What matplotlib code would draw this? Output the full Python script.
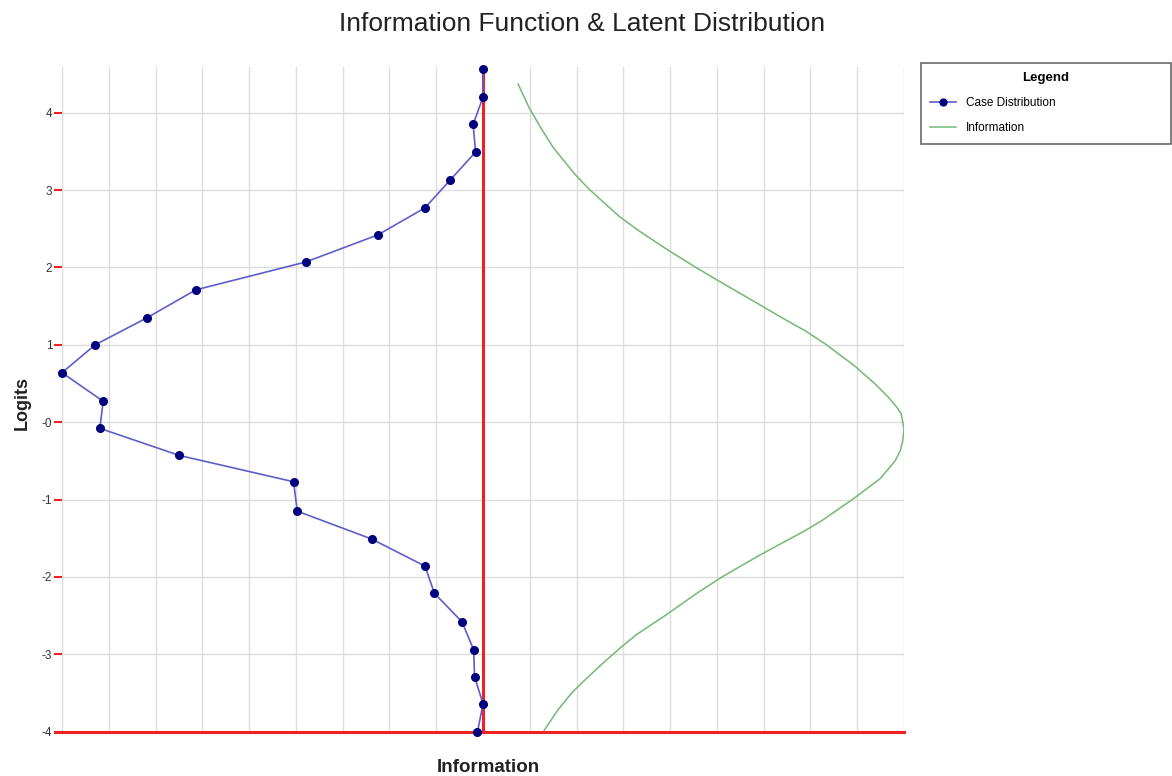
import matplotlib.pyplot as plt
import numpy as np

plt.rcParams['font.family'] = ['Liberation Sans', 'DejaVu Sans']

# case distribution (drawn to the left of the zero line)
case_logits = [4.56, 4.20, 3.85, 3.49, 3.13, 2.77, 2.42, 2.07, 1.71, 1.35, 1.00, 0.64, 0.27,
               -0.08, -0.43, -0.77, -1.15, -1.51, -1.86, -2.21, -2.58, -2.94, -3.29, -3.64, -4.01]
case_dist = [0.0, 0.0, 0.21, 0.16, 0.70, 1.24, 2.25, 3.79, 6.14, 7.18, 8.29, 9.0, 8.12,
             8.19, 6.49, 4.05, 3.97, 2.38, 1.24, 1.04, 0.45, 0.20, 0.18, 0.0, 0.12]

# information function (drawn to the right)
info_logits = [4.37, 4.06, 3.80, 3.55, 3.20, 3.01, 2.66, 2.47, 2.23, 2.00, 1.80, 1.52, 1.35,
               1.18, 1.01, 0.73, 0.49, 0.32, 0.19, 0.11, -0.09, -0.25, -0.37, -0.50, -0.73,
               -0.98, -1.27, -1.40, -1.72, -2.00, -2.22, -2.48, -2.75, -2.93, -3.16, -3.36,
               -3.49, -3.72, -3.98]
info_values = [0.75, 0.99, 1.24, 1.50, 1.97, 2.27, 2.91, 3.34, 3.94, 4.55, 5.11, 5.91, 6.39,
               6.89, 7.32, 7.94, 8.39, 8.67, 8.85, 8.94, 9.0, 8.97, 8.92, 8.81, 8.49,
               7.94, 7.25, 6.89, 5.91, 5.11, 4.55, 3.94, 3.27, 2.91, 2.48, 2.13,
               1.91, 1.60, 1.31]

ytick_vals = [4, 3, 2, 1, 0, -1, -2, -3, -4]
ytick_labels = ['4', '3', '2', '1', '-0', '-1', '-2', '-3', '-4']

W, H = 1172, 776
fig = plt.figure(figsize=(W / 100, H / 100), dpi=100)
ax = fig.add_axes([62 / W, 44.3 / H, 842 / W, 664.7 / H])

ax.plot(-np.array(case_dist), case_logits, color='#5e5ec8', lw=1.2, marker='o', ms=5.5,
        mfc='#00007f', mec='#00007f', label='Case Distribution', zorder=5, clip_on=False)
ax.plot(info_values, info_logits, color='#74b874', lw=1.1, label='Information', zorder=3)
ax.axvline(0, color='#ee2222', lw=2.2, zorder=2)
ax.axhline(-4, xmin=-0.008, xmax=1.0, color='#ee2222', lw=2.2, zorder=2, clip_on=False)

ax.set_xlim(-9, 9)
ax.set_ylim(-4, 4.59)
ax.set_xticks(np.arange(-9, 10))
ax.set_yticks(ytick_vals)
ax.set_yticklabels(ytick_labels)
ax.tick_params(axis='x', length=0, labelbottom=False)
ax.tick_params(axis='y', length=6, width=1.5, color='#ee2222', labelcolor='#333333',
               labelsize=8.5, pad=1)
ax.grid(True, color='#dddddd', lw=1)
ax.set_axisbelow(True)
for s in ax.spines.values():
    s.set_visible(False)

fig.text(582 / W, 1 - 24 / H, 'Information Function & Latent Distribution', fontsize=19,
         ha='center', va='center', color='#222222')
fig.text(22 / W, 1 - 403 / H, 'Logits', fontsize=13, fontweight='bold', rotation=90,
         ha='center', va='center', color='#222222')
fig.text(488 / W, 1 - 767 / H, 'Information', fontsize=13.5, fontweight='bold',
         ha='center', va='center', color='#222222')

leg = fig.legend(loc='upper left', bbox_to_anchor=(921 / W, 1 - 63 / H, 250 / W, 0),
                 mode='expand', title='Legend', title_fontproperties={'weight': 'bold', 'size': 9.5},
                 fontsize=8.5, frameon=True, fancybox=False, edgecolor='#444444',
                 borderaxespad=0, handlelength=2.2, labelspacing=1.1, borderpad=0.8,
                 markerscale=0.9)
leg.get_frame().set_linewidth(1.2)

fig.savefig('out.png', dpi=100)
